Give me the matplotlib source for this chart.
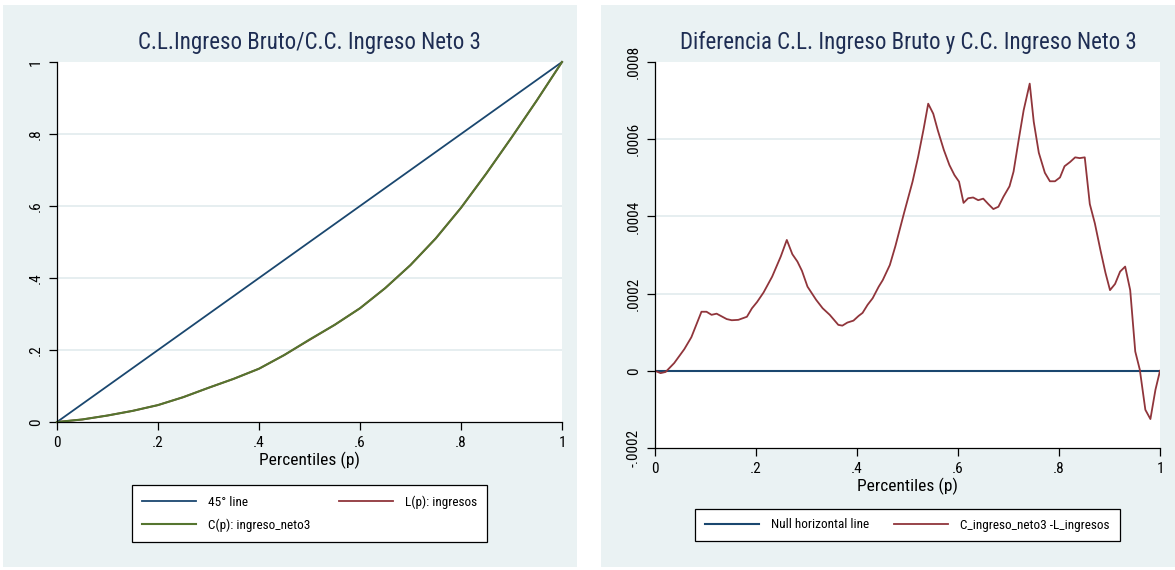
import matplotlib
matplotlib.use("Agg")
import matplotlib.pyplot as plt
from matplotlib.patches import Rectangle

plt.rcParams['font.family'] = ['Roboto Condensed', 'Liberation Sans', 'DejaVu Sans']

# Percentile grid for the Lorenz / concentration curves
p_grid = [0.00, 0.05, 0.10, 0.15, 0.20, 0.25, 0.30, 0.35, 0.40, 0.45, 0.50,
          0.55, 0.60, 0.65, 0.70, 0.75, 0.80, 0.85, 0.90, 0.95, 1.00]
lorenz_ingresos = [0.000, 0.007, 0.018, 0.031, 0.047, 0.069, 0.095, 0.120, 0.148, 0.186, 0.228,
                   0.270, 0.316, 0.372, 0.436, 0.510, 0.595, 0.690, 0.790, 0.893, 1.000]
conc_ingreso_neto3 = [0.000, 0.007, 0.018, 0.031, 0.047, 0.069, 0.095, 0.120, 0.148, 0.186, 0.229,
                      0.270, 0.316, 0.372, 0.436, 0.510, 0.595, 0.690, 0.790, 0.893, 1.000]

# Difference C_ingreso_neto3 - L_ingresos
p_diff = [0.000, 0.011, 0.021, 0.038, 0.058, 0.072, 0.092, 0.102, 0.112, 0.122, 0.142, 0.152,
          0.165, 0.182, 0.192, 0.202, 0.215, 0.232, 0.249, 0.261, 0.272, 0.282, 0.291, 0.302,
          0.319, 0.332, 0.346, 0.363, 0.371, 0.381, 0.393, 0.403, 0.411, 0.421, 0.431, 0.443,
          0.451, 0.465, 0.476, 0.493, 0.510, 0.521, 0.532, 0.541, 0.551, 0.560, 0.572, 0.583,
          0.593, 0.602, 0.611, 0.620, 0.630, 0.640, 0.650, 0.660, 0.670, 0.680, 0.690, 0.702,
          0.710, 0.720, 0.730, 0.742, 0.750, 0.760, 0.772, 0.782, 0.792, 0.802, 0.811, 0.822,
          0.832, 0.841, 0.851, 0.861, 0.871, 0.882, 0.892, 0.901, 0.911, 0.921, 0.931, 0.941,
          0.951, 0.960, 0.971, 0.981, 0.991, 1.000]
diff_values = [0.0, -0.000006, -0.000003, 0.000020, 0.000056, 0.000087, 0.000153, 0.000153,
               0.000145, 0.000148, 0.000134, 0.000131, 0.000132, 0.000140, 0.000162, 0.000178,
               0.000203, 0.000244, 0.000296, 0.000339, 0.000302, 0.000283, 0.000259, 0.000218,
               0.000184, 0.000162, 0.000145, 0.000119, 0.000117, 0.000125, 0.000130, 0.000142,
               0.000150, 0.000171, 0.000188, 0.000218, 0.000235, 0.000274, 0.000323, 0.000408,
               0.000490, 0.000554, 0.000627, 0.000692, 0.000666, 0.000623, 0.000572, 0.000533,
               0.000507, 0.000490, 0.000435, 0.000447, 0.000449, 0.000442, 0.000446, 0.000432,
               0.000419, 0.000425, 0.000451, 0.000478, 0.000516, 0.000597, 0.000675, 0.000744,
               0.000645, 0.000565, 0.000513, 0.000491, 0.000491, 0.000501, 0.000530, 0.000541,
               0.000553, 0.000551, 0.000553, 0.000432, 0.000382, 0.000313, 0.000254, 0.000209,
               0.000225, 0.000257, 0.000270, 0.000209, 0.000050, 0.000003, -0.000101, -0.000125,
               -0.000049, 0.0]

x_ticks = [0, 0.2, 0.4, 0.6, 0.8, 1]
x_tick_labels = ["0", ".2", ".4", ".6", ".8", "1"]
left_y_ticks = [0, 0.2, 0.4, 0.6, 0.8, 1]
left_y_labels = ["0", ".2", ".4", ".6", ".8", "1"]
right_y_ticks = [-0.0002, 0, 0.0002, 0.0004, 0.0006, 0.0008]
right_y_labels = ["-.0002", "0", ".0002", ".0004", ".0006", ".0008"]

NAVY = "#1A476F"
MAROON = "#90353B"
GREEN = "#55752F"
BG = "#EAF2F3"
GRID = "#E6EEF0"
TITLE_C = "#1E2D53"

W, H = 1175, 570
fig = plt.figure(figsize=(W / 100, H / 100), dpi=100)
fig.patch.set_facecolor("white")


def px_rect(x0, y0, x1, y1):
    return [x0 / W, 1 - y1 / H, (x1 - x0) / W, (y1 - y0) / H]


# panel backgrounds
for (x0, y0, x1, y1) in [(3, 5, 577, 567), (601, 5, 1175, 567)]:
    r = px_rect(x0, y0, x1, y1)
    fig.patches.append(Rectangle((r[0], r[1]), r[2], r[3], transform=fig.transFigure,
                                 facecolor=BG, edgecolor="none", zorder=-10))


def style_axes(ax, yticks, ylabels, grid_ticks):
    ax.set_facecolor("white")
    for s in ("top", "right"):
        ax.spines[s].set_visible(False)
    for s in ("left", "bottom"):
        ax.spines[s].set_color("black")
        ax.spines[s].set_linewidth(0.9)
    ax.set_xlim(0, 1)
    ax.set_xticks(x_ticks)
    ax.set_xticklabels(x_tick_labels, fontsize=11)
    ax.set_yticks(yticks)
    ax.set_yticklabels(ylabels, fontsize=11, rotation=90, va="center")
    ax.tick_params(axis="both", length=6, width=0.9, color="black", pad=4)
    for g in grid_ticks:
        ax.axhline(g, color=GRID, lw=1.4, zorder=0)
    ax.set_xlabel("Percentiles (p)", fontsize=12.5, labelpad=1)


LEG_KW = dict(ncol=2, loc="center", frameon=True, fancybox=False, edgecolor="black",
              facecolor="white", fontsize=9.5, handlelength=4.1, handletextpad=0.9,
              labelspacing=0.75, borderpad=0.75, framealpha=1)

# Left panel: Lorenz and concentration curves
axL = fig.add_axes(px_rect(57, 62, 562, 422))
style_axes(axL, left_y_ticks, left_y_labels, [0.2, 0.4, 0.6, 0.8])
axL.set_ylim(0, 1)
h1, = axL.plot([0, 1], [0, 1], color=NAVY, lw=1.3, label="45° line")
h2, = axL.plot(p_grid, lorenz_ingresos, color=MAROON, lw=1.3, label="L(p): ingresos")
h3, = axL.plot(p_grid, conc_ingreso_neto3, color=GREEN, lw=1.5, label="C(p): ingreso_neto3")
for ln in (h1, h2, h3):
    ln.set_clip_on(False)
fig.text(309 / W, 1 - 42 / H, "C.L.Ingreso Bruto/C.C. Ingreso Neto 3", ha="center", va="center",
         fontsize=16.5, color=TITLE_C)
legL = fig.legend(handles=[h1, h3, h2], bbox_to_anchor=(309.5 / W, 1 - 513.5 / H),
                  columnspacing=2.2, **LEG_KW)
legL.get_frame().set_linewidth(0.9)

# Right panel: difference between the curves
axR = fig.add_axes(px_rect(655, 62, 1160, 448))
style_axes(axR, right_y_ticks, right_y_labels, [0.0002, 0.0004, 0.0006])
axR.set_ylim(-0.0002, 0.0008)
n1, = axR.plot([0, 1], [0, 0], color=NAVY, lw=1.5, label="Null horizontal line")
n2, = axR.plot(p_diff, diff_values, color=MAROON, lw=1.3, label="C_ingreso_neto3 -L_ingresos")
fig.text(908 / W, 1 - 42 / H, "Diferencia C.L. Ingreso Bruto y C.C. Ingreso Neto 3", ha="center",
         va="center", fontsize=16.5, color=TITLE_C)
legR = fig.legend(handles=[n1, n2], bbox_to_anchor=(907.5 / W, 1 - 525 / H),
                  columnspacing=1.9, **LEG_KW)
legR.get_frame().set_linewidth(0.9)

fig.savefig("out.png", dpi=100, facecolor="white")
